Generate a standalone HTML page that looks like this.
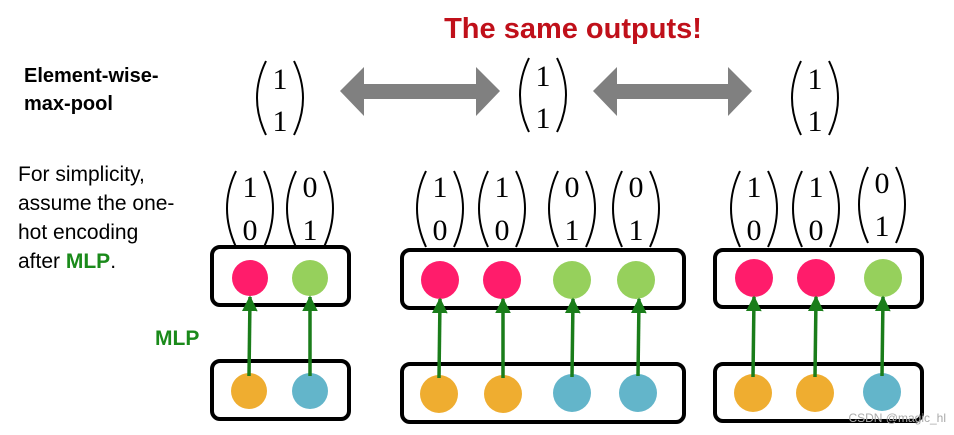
<!DOCTYPE html>
<html><head><meta charset="utf-8"><style>html,body{margin:0;padding:0;background:#fff}svg{display:block}</style></head>
<body>
<svg width="954" height="435" viewBox="0 0 954 435" xmlns="http://www.w3.org/2000/svg">
<defs>
<marker id="ah" viewBox="0 0 10 10" refX="9" refY="5" markerWidth="4.5" markerHeight="4.5" orient="auto"><path d="M0,0 L10,5 L0,10 z" fill="#1a7d1a"/></marker>
</defs>
<text x="573" y="38" text-anchor="middle" font-family="Liberation Sans, sans-serif" font-weight="bold" font-size="29" fill="#c0101a">The same outputs!</text>
<g font-family="Liberation Sans, sans-serif" font-weight="bold" font-size="20" fill="#000">
<text x="24" y="82">Element-wise-</text>
<text x="24" y="110">max-pool</text>
</g>
<g font-family="Liberation Sans, sans-serif" font-size="21" fill="#000">
<text x="18" y="181">For simplicity,</text>
<text x="18" y="210">assume the one-</text>
<text x="18" y="239">hot encoding</text>
<text x="18" y="268">after <tspan fill="#1a8a1a" font-weight="bold">MLP</tspan>.</text>
</g>
<text x="155" y="345" font-family="Liberation Sans, sans-serif" font-weight="bold" font-size="21" fill="#1a8a1a">MLP</text>

<path d="M340,91 L364,67 L364,84 L476,84 L476,67 L500,91 L476,116 L476,99 L364,99 L364,116 Z" fill="#808080"/>
<path d="M593,91 L617,67 L617,84 L728,84 L728,67 L752,91 L728,116 L728,99 L617,99 L617,116 Z" fill="#808080"/>

<g fill="none" stroke="#000" stroke-width="2">
<path d="M266,61 Q248,98 266,135"/><path d="M294,61 Q312,98 294,135"/>
<path d="M529,58 Q511,95 529,132"/><path d="M557,58 Q575,95 557,132"/>
<path d="M801,61 Q783,98 801,135"/><path d="M829,61 Q847,98 829,135"/>
</g>
<g font-family="Liberation Serif, serif" font-size="30" fill="#000" text-anchor="middle">
<text x="280" y="89">1</text><text x="280" y="131">1</text>
<text x="543" y="86">1</text><text x="543" y="128">1</text>
<text x="815" y="89">1</text><text x="815" y="131">1</text>
</g>

<g fill="none" stroke="#000" stroke-width="2">
<path d="M236,171 Q218,208 236,247"/><path d="M264,171 Q282,208 264,247"/>
<path d="M296,171 Q278,208 296,247"/><path d="M324,171 Q342,208 324,247"/>
<path d="M426,171 Q408,208 426,247"/><path d="M454,171 Q472,208 454,247"/>
<path d="M488,171 Q470,208 488,247"/><path d="M516,171 Q534,208 516,247"/>
<path d="M558,171 Q540,208 558,247"/><path d="M586,171 Q604,208 586,247"/>
<path d="M622,171 Q604,208 622,247"/><path d="M650,171 Q668,208 650,247"/>
<path d="M740,171 Q722,208 740,247"/><path d="M768,171 Q786,208 768,247"/>
<path d="M802,171 Q784,208 802,247"/><path d="M830,171 Q848,208 830,247"/>
<path d="M868,167 Q850,204 868,243"/><path d="M896,167 Q914,204 896,243"/>
</g>
<g font-family="Liberation Serif, serif" font-size="30" fill="#000" text-anchor="middle">
<text x="250" y="197">1</text><text x="250" y="240">0</text>
<text x="310" y="197">0</text><text x="310" y="240">1</text>
<text x="440" y="197">1</text><text x="440" y="240">0</text>
<text x="502" y="197">1</text><text x="502" y="240">0</text>
<text x="572" y="197">0</text><text x="572" y="240">1</text>
<text x="636" y="197">0</text><text x="636" y="240">1</text>
<text x="754" y="197">1</text><text x="754" y="240">0</text>
<text x="816" y="197">1</text><text x="816" y="240">0</text>
<text x="882" y="193">0</text><text x="882" y="236">1</text>
</g>

<g fill="none" stroke="#000" stroke-width="4">
<rect x="212" y="247" width="137" height="58" rx="8"/>
<rect x="212" y="361" width="137" height="58" rx="8"/>
<rect x="402" y="250" width="282" height="58" rx="8"/>
<rect x="402" y="364" width="282" height="58" rx="8"/>
<rect x="715" y="250" width="207" height="57" rx="8"/>
<rect x="715" y="364" width="207" height="57" rx="8"/>
</g>

<g>
<circle cx="250" cy="278" r="18" fill="#ff1c6b"/><circle cx="310" cy="278" r="18" fill="#96d05c"/>
<circle cx="249" cy="391" r="18" fill="#efad30"/><circle cx="310" cy="391" r="18" fill="#63b5ca"/>
<circle cx="440" cy="280" r="19" fill="#ff1c6b"/><circle cx="502" cy="280" r="19" fill="#ff1c6b"/>
<circle cx="572" cy="280" r="19" fill="#96d05c"/><circle cx="636" cy="280" r="19" fill="#96d05c"/>
<circle cx="439" cy="394" r="19" fill="#efad30"/><circle cx="503" cy="394" r="19" fill="#efad30"/>
<circle cx="572" cy="393" r="19" fill="#63b5ca"/><circle cx="638" cy="393" r="19" fill="#63b5ca"/>
<circle cx="754" cy="278" r="19" fill="#ff1c6b"/><circle cx="816" cy="278" r="19" fill="#ff1c6b"/>
<circle cx="883" cy="278" r="19" fill="#96d05c"/>
<circle cx="753" cy="393" r="19" fill="#efad30"/><circle cx="815" cy="393" r="19" fill="#efad30"/>
<circle cx="882" cy="392" r="19" fill="#63b5ca"/>
</g>

<g stroke="#1a7d1a" stroke-width="3.5" marker-end="url(#ah)">
<line x1="249" y1="376" x2="250" y2="297"/><line x1="310" y1="376" x2="310" y2="297"/>
<line x1="439" y1="378" x2="440" y2="299"/><line x1="503" y1="378" x2="503" y2="299"/>
<line x1="572" y1="377" x2="573" y2="299"/><line x1="638" y1="376" x2="639" y2="299"/>
<line x1="753" y1="377" x2="754" y2="297"/><line x1="815" y1="377" x2="816" y2="297"/>
<line x1="882" y1="376" x2="883" y2="297"/>
</g>
<text x="946" y="422" text-anchor="end" font-family="Liberation Sans, sans-serif" font-size="12" fill="#aaa">CSDN @magic_hl</text>
</svg>
</body></html>
